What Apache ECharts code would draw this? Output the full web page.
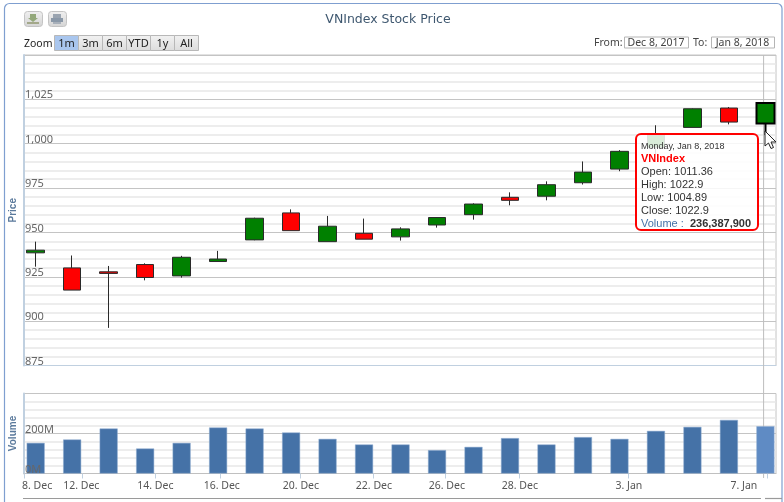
<!DOCTYPE html>
<html>
<head>
<meta charset="utf-8">
<title>VNIndex Stock Price</title>
<script src="https://cdn.jsdelivr.net/npm/echarts@6/dist/echarts.min.js"></script>
<style>
    html, body { margin: 0; padding: 0; background: #fff; }
    #main { width: 784px; height: 502px; }
</style>
</head>
<body>
<div id="main"></div>
<script>
    var dates = ['Dec 8', 'Dec 11', 'Dec 12', 'Dec 13', 'Dec 14', 'Dec 15', 'Dec 18', 'Dec 19', 'Dec 20', 'Dec 21', 'Dec 22',
        'Dec 25', 'Dec 26', 'Dec 27', 'Dec 28', 'Dec 29', 'Jan 2', 'Jan 3', 'Jan 4', 'Jan 5', 'Jan 8'];
    var opens = [938.5, 930, 927.8, 931.9, 925.5, 933.6, 945.8, 961, 944.8, 949.5, 947.5, 954.2, 960, 969.8, 970.4, 978, 985.7, 998, 1009.2, 1020.1, 1011.36];
    var closes = [940, 917.5, 926.9, 924.6, 936, 935, 958, 951, 953.5, 946.2, 952, 958.4, 966, 968.1, 976.9, 984, 995.7, 1004.9, 1019.7, 1012.2, 1022.9];
    var lows = [930.7, 917.5, 896.2, 923, 924.5, 933.6, 945.6, 951, 944.8, 946.2, 945.4, 952.7, 957.2, 965.3, 968.1, 977, 984.5, 994, 1009.2, 1010.9, 1004.89];
    var highs = [944.8, 937, 931.1, 932.6, 936.8, 939.6, 958.3, 963, 959.3, 957.8, 952.9, 958.6, 966.4, 972.6, 978.8, 990, 996.4, 1010.4, 1019.9, 1020.7, 1022.9];
    var volumes = [153, 170, 225, 125, 153, 230, 225, 205, 173, 145, 145, 117, 133, 177, 145, 182, 173, 213, 233, 268, 236.3879];

    var tickLabels = ['8. Dec', '12. Dec', '14. Dec', '16. Dec', '20. Dec', '22. Dec', '26. Dec', '28. Dec', '3. Jan', '7. Jan'];
    var labelSlots = [0.04, 1.25, 3.28, 5.1, 7.27, 9.27, 11.27, 13.27, 16.26, 19.41];
    var tickSlots = [-0.32, 1.27, 3.27, 5.05, 7.25, 9.25, 11.22, 13.25, 16.24, 20.05];
    var crosshairSlot = 19.95;
    var slotMin = -0.32, slotMax = 20.29;

    var textFont = '"Noto Sans", sans-serif';
    var last = dates.length - 1;

    var candleData = [];
    var volumeData = [];
    for (var i = 0; i < dates.length; i++) {
        var candle = {value: [i, opens[i], closes[i], lows[i], highs[i]]};
        var bar = {value: [i, volumes[i] * 1000000]};
        if (i === last) {
            // hovered point
            candle.itemStyle = {borderWidth: 2, borderColor: '#000', borderColor0: '#000'};
            bar.itemStyle = {color: '#5f8bc4'};
        }
        candleData.push(candle);
        volumeData.push(bar);
    }

    function yAxisOf(grid, min, max, interval, name, fmt, nameGap) {
        return {
            type: 'value',
            gridIndex: grid,
            position: 'left',
            min: min,
            max: max,
            interval: interval,
            name: name,
            nameLocation: 'middle',
            nameGap: nameGap,
            nameMoveOverlap: false,
            nameTextStyle: {color: '#5b7a9c', fontWeight: 'bold', fontSize: 10, fontFamily: '"Liberation Sans", sans-serif'},
            axisLine: {show: true, onZero: false, lineStyle: {color: '#c0d0e0', width: 2}},
            axisTick: {show: false},
            minorTick: {show: false, splitNumber: 5},
            splitLine: {show: true, lineStyle: {color: '#c4c4c4', width: 1}},
            minorSplitLine: {show: true, lineStyle: {color: '#e8e8e8', width: 1.5}},
            axisLabel: {
                inside: true,
                margin: 1,
                align: 'left',
                verticalAlign: 'bottom',
                lineHeight: 8,
                showMaxLabel: false,
                color: '#666',
                fontSize: 11,
                fontFamily: textFont,
                formatter: fmt
            }
        };
    }

    // the 0M label sits on top of the first volume bar, so it gets its own axis above the series
    var zeroLabelAxis = yAxisOf(1, 0, 400000000, 200000000, '', function (v) {
        return v === 0 ? '0M' : '';
    }, 2);
    zeroLabelAxis.z = 5;
    zeroLabelAxis.axisLine = {show: false, onZero: false};
    zeroLabelAxis.splitLine = {show: false};
    zeroLabelAxis.minorSplitLine = {show: false};
    zeroLabelAxis.axisLabel.color = 'rgba(110,100,90,0.8)';

    var option = {
        animation: false,
        backgroundColor: '#fff',
        title: {
            text: 'VNIndex Stock Price',
            left: 383,
            top: 8,
            textAlign: 'center',
            textStyle: {color: '#3e576f', fontSize: 12.5, fontWeight: 'normal', fontFamily: '"DejaVu Sans", sans-serif'}
        },
        tooltip: {
            trigger: 'item',
            alwaysShowContent: true,
            showContent: true,
            transitionDuration: 0,
            position: [635, 133],
            padding: [6, 3, 0, 4],
            borderColor: '#ff0000',
            borderWidth: 2,
            borderRadius: 6,
            backgroundColor: 'rgba(255,255,255,0.85)',
            extraCssText: 'box-shadow:none;width:113px;height:88px;box-sizing:content-box;',
            formatter: function () {
                var f = 'font-family:Liberation Sans,sans-serif;';
                return '<div style="' + f + 'font-size:9px;line-height:11px;color:#333;white-space:nowrap">Monday, Jan 8, 2018</div>' +
                    '<div style="' + f + 'font-size:11px;line-height:13px;color:#ff0000;font-weight:bold">VNIndex</div>' +
                    '<div style="' + f + 'font-size:11px;line-height:13px;color:#333">Open: ' + opens[last] + '</div>' +
                    '<div style="' + f + 'font-size:11px;line-height:13px;color:#333">High: ' + highs[last] + '</div>' +
                    '<div style="' + f + 'font-size:11px;line-height:13px;color:#333">Low: ' + lows[last] + '</div>' +
                    '<div style="' + f + 'font-size:11px;line-height:13px;color:#333">Close: ' + closes[last] + '</div>' +
                    '<div style="' + f + 'font-size:11px;line-height:13px;color:#4572a7;white-space:nowrap">Volume : <b style="color:#333">&nbsp;236,387,900</b></div>';
            }
        },
        grid: [
            {left: 24, width: 752, top: 55, height: 310.5, show: true, borderColor: '#c4c4c4', borderWidth: 1, outerBoundsMode: 'none'},
            {left: 24, width: 752, top: 393.5, height: 80, show: true, borderColor: '#c4c4c4', borderWidth: 1, outerBoundsMode: 'none'}
        ],
        xAxis: [
            {
                type: 'value', gridIndex: 0, min: slotMin, max: slotMax, containShape: false,
                axisLine: {show: true, onZero: false, lineStyle: {color: '#c0d0e0'}},
                axisTick: {show: false}, axisLabel: {show: false}, splitLine: {show: false}
            },
            {
                type: 'value', gridIndex: 1, min: slotMin, max: slotMax, containShape: false,
                axisLine: {show: true, onZero: false, lineStyle: {color: '#c0c0c0'}},
                axisTick: {show: true, length: 5, customValues: tickSlots, lineStyle: {color: '#c0d0e0'}},
                splitLine: {show: false},
                axisLabel: {
                    show: true,
                    customValues: labelSlots,
                    margin: 7,
                    color: '#555',
                    fontSize: 10.5,
                    fontFamily: textFont,
                    hideOverlap: false,
                    formatter: function (value) {
                        return tickLabels[labelSlots.indexOf(value)];
                    }
                }
            }
        ],
        yAxis: [
            yAxisOf(0, 875, 1050, 25, 'Price', function (v) {
                return v >= 1000 ? '1,' + String(v).slice(1) : String(v);
            }, 6),
            yAxisOf(1, 0, 400000000, 200000000, 'Volume', function (v) {
                return v === 0 ? '' : (v / 1000000) + 'M';
            }, 6),
            zeroLabelAxis
        ],
        series: [
            {
                type: 'candlestick',
                name: 'VNIndex',
                xAxisIndex: 0,
                yAxisIndex: 0,
                barWidth: 18,
                emphasis: {disabled: true},
                itemStyle: {color: '#008000', color0: '#ff0000', borderColor: '#2a2a2a', borderColor0: '#2a2a2a', borderWidth: 1},
                data: candleData
            },
            {
                type: 'bar',
                name: 'Volume',
                xAxisIndex: 1,
                yAxisIndex: 1,
                barWidth: 18,
                emphasis: {disabled: true},
                itemStyle: {color: '#4572a7', borderColor: '#8fadd0', borderWidth: 0.5},
                data: volumeData
            }
        ]
    };

    var chart = echarts.init(document.getElementById('main'), null, {renderer: 'canvas'});
    chart.setOption(option);

    function button(x, y, w, h, label, selected) {
        return {
            type: 'group',
            children: [
                {
                    type: 'rect',
                    shape: {x: x + 0.5, y: y + 0.5, width: w, height: h},
                    style: {
                        fill: selected ? '#a9c6ee' : new echarts.graphic.LinearGradient(0, 0, 0, 1, [
                            {offset: 0, color: '#f2f2f2'}, {offset: 1, color: '#dcdcdc'}
                        ]),
                        stroke: '#b8b8b8',
                        lineWidth: 1
                    }
                },
                {
                    type: 'text',
                    x: x + w / 2 + 0.5,
                    y: y + h / 2 + 1,
                    style: {text: label, fill: '#222', font: '11px ' + textFont, align: 'center', verticalAlign: 'middle'}
                }
            ]
        };
    }

    function plainText(x, y, label, color, size) {
        return {
            type: 'text',
            x: x,
            y: y,
            style: {text: label, fill: color, font: size + 'px ' + textFont, verticalAlign: 'middle'}
        };
    }

    function inputBox(x, w, label) {
        return {
            type: 'group',
            children: [
                {type: 'rect', shape: {x: x + 0.5, y: 37, width: w, height: 11}, style: {fill: '#fff', stroke: '#b5b5b5', lineWidth: 1}},
                {type: 'text', x: x + w / 2, y: 43, style: {text: label, fill: '#444', font: '10.5px ' + textFont, align: 'center', verticalAlign: 'middle'}}
            ]
        };
    }

    function iconButton(x, glyph) {
        return {
            type: 'group',
            children: [
                {
                    type: 'rect',
                    shape: {x: x + 0.5, y: 11.5, width: 18, height: 15, r: 3},
                    style: {
                        fill: new echarts.graphic.LinearGradient(0, 0, 0, 1, [
                            {offset: 0, color: '#f0f0f0'}, {offset: 1, color: '#d4d4d4'}
                        ]),
                        stroke: '#c4c4c4',
                        lineWidth: 1
                    }
                }
            ].concat(glyph)
        };
    }

    var crossX = chart.convertToPixel({xAxisIndex: 0}, crosshairSlot);

    chart.setOption({
        graphic: {
            elements: [
                // outer frame and navigator edge
                {type: 'rect', shape: {x: 4.5, y: 3.5, width: 777.5, height: 530, r: 5}, style: {fill: 'none', stroke: '#7f9fd0', lineWidth: 1.2}},
                {type: 'line', shape: {x1: 23, y1: 498.5, x2: 761, y2: 498.5}, style: {stroke: '#9a9a9a', lineWidth: 1.2}},
                {type: 'line', shape: {x1: 765, y1: 498.5, x2: 782, y2: 498.5}, style: {stroke: '#9a9a9a', lineWidth: 1.2}},
                // hover crosshair over both panes
                {type: 'line', z: 1, shape: {x1: crossX, y1: 55, x2: crossX, y2: 478}, style: {stroke: '#bdbdbd', lineWidth: 1}},
                iconButton(24, [
                    {type: 'polygon', shape: {points: [[30, 14], [36, 14], [36, 18], [38, 18], [33, 22], [28, 18], [30, 18]]}, style: {fill: '#93a87a'}},
                    {type: 'rect', shape: {x: 27, y: 22, width: 12, height: 2}, style: {fill: '#a3a88a'}}
                ]),
                iconButton(48, [
                    {type: 'rect', shape: {x: 53, y: 14, width: 8, height: 4}, style: {fill: '#9aa4b0'}},
                    {type: 'rect', shape: {x: 51, y: 18, width: 12, height: 4}, style: {fill: '#8a98a8'}},
                    {type: 'rect', shape: {x: 53, y: 22, width: 8, height: 2}, style: {fill: '#a8b0ba'}}
                ]),
                plainText(24, 44, 'Zoom', '#222', 10.5),
                button(54, 35, 24, 15, '1m', true),
                button(78, 35, 24, 15, '3m', false),
                button(102, 35, 24, 15, '6m', false),
                button(126, 35, 24, 15, 'YTD', false),
                button(150, 35, 24, 15, '1y', false),
                button(174, 35, 24, 15, 'All', false),
                plainText(594, 43, 'From:', '#444', 10.5),
                inputBox(624, 64, 'Dec 8, 2017'),
                plainText(693, 43, 'To:', '#444', 10.5),
                inputBox(711, 63, 'Jan 8, 2018'),
                // mouse pointer
                {
                    type: 'polygon',
                    z: 100,
                    shape: {points: [[765, 131], [765, 146], [768.5, 143], [771, 148.5], [773.5, 147.5], [771, 142], [776, 142]]},
                    style: {fill: '#fff', stroke: '#222', lineWidth: 1}
                }
            ]
        }
    });

    chart.dispatchAction({type: 'showTip', seriesIndex: 0, dataIndex: last});
</script>
</body>
</html>
